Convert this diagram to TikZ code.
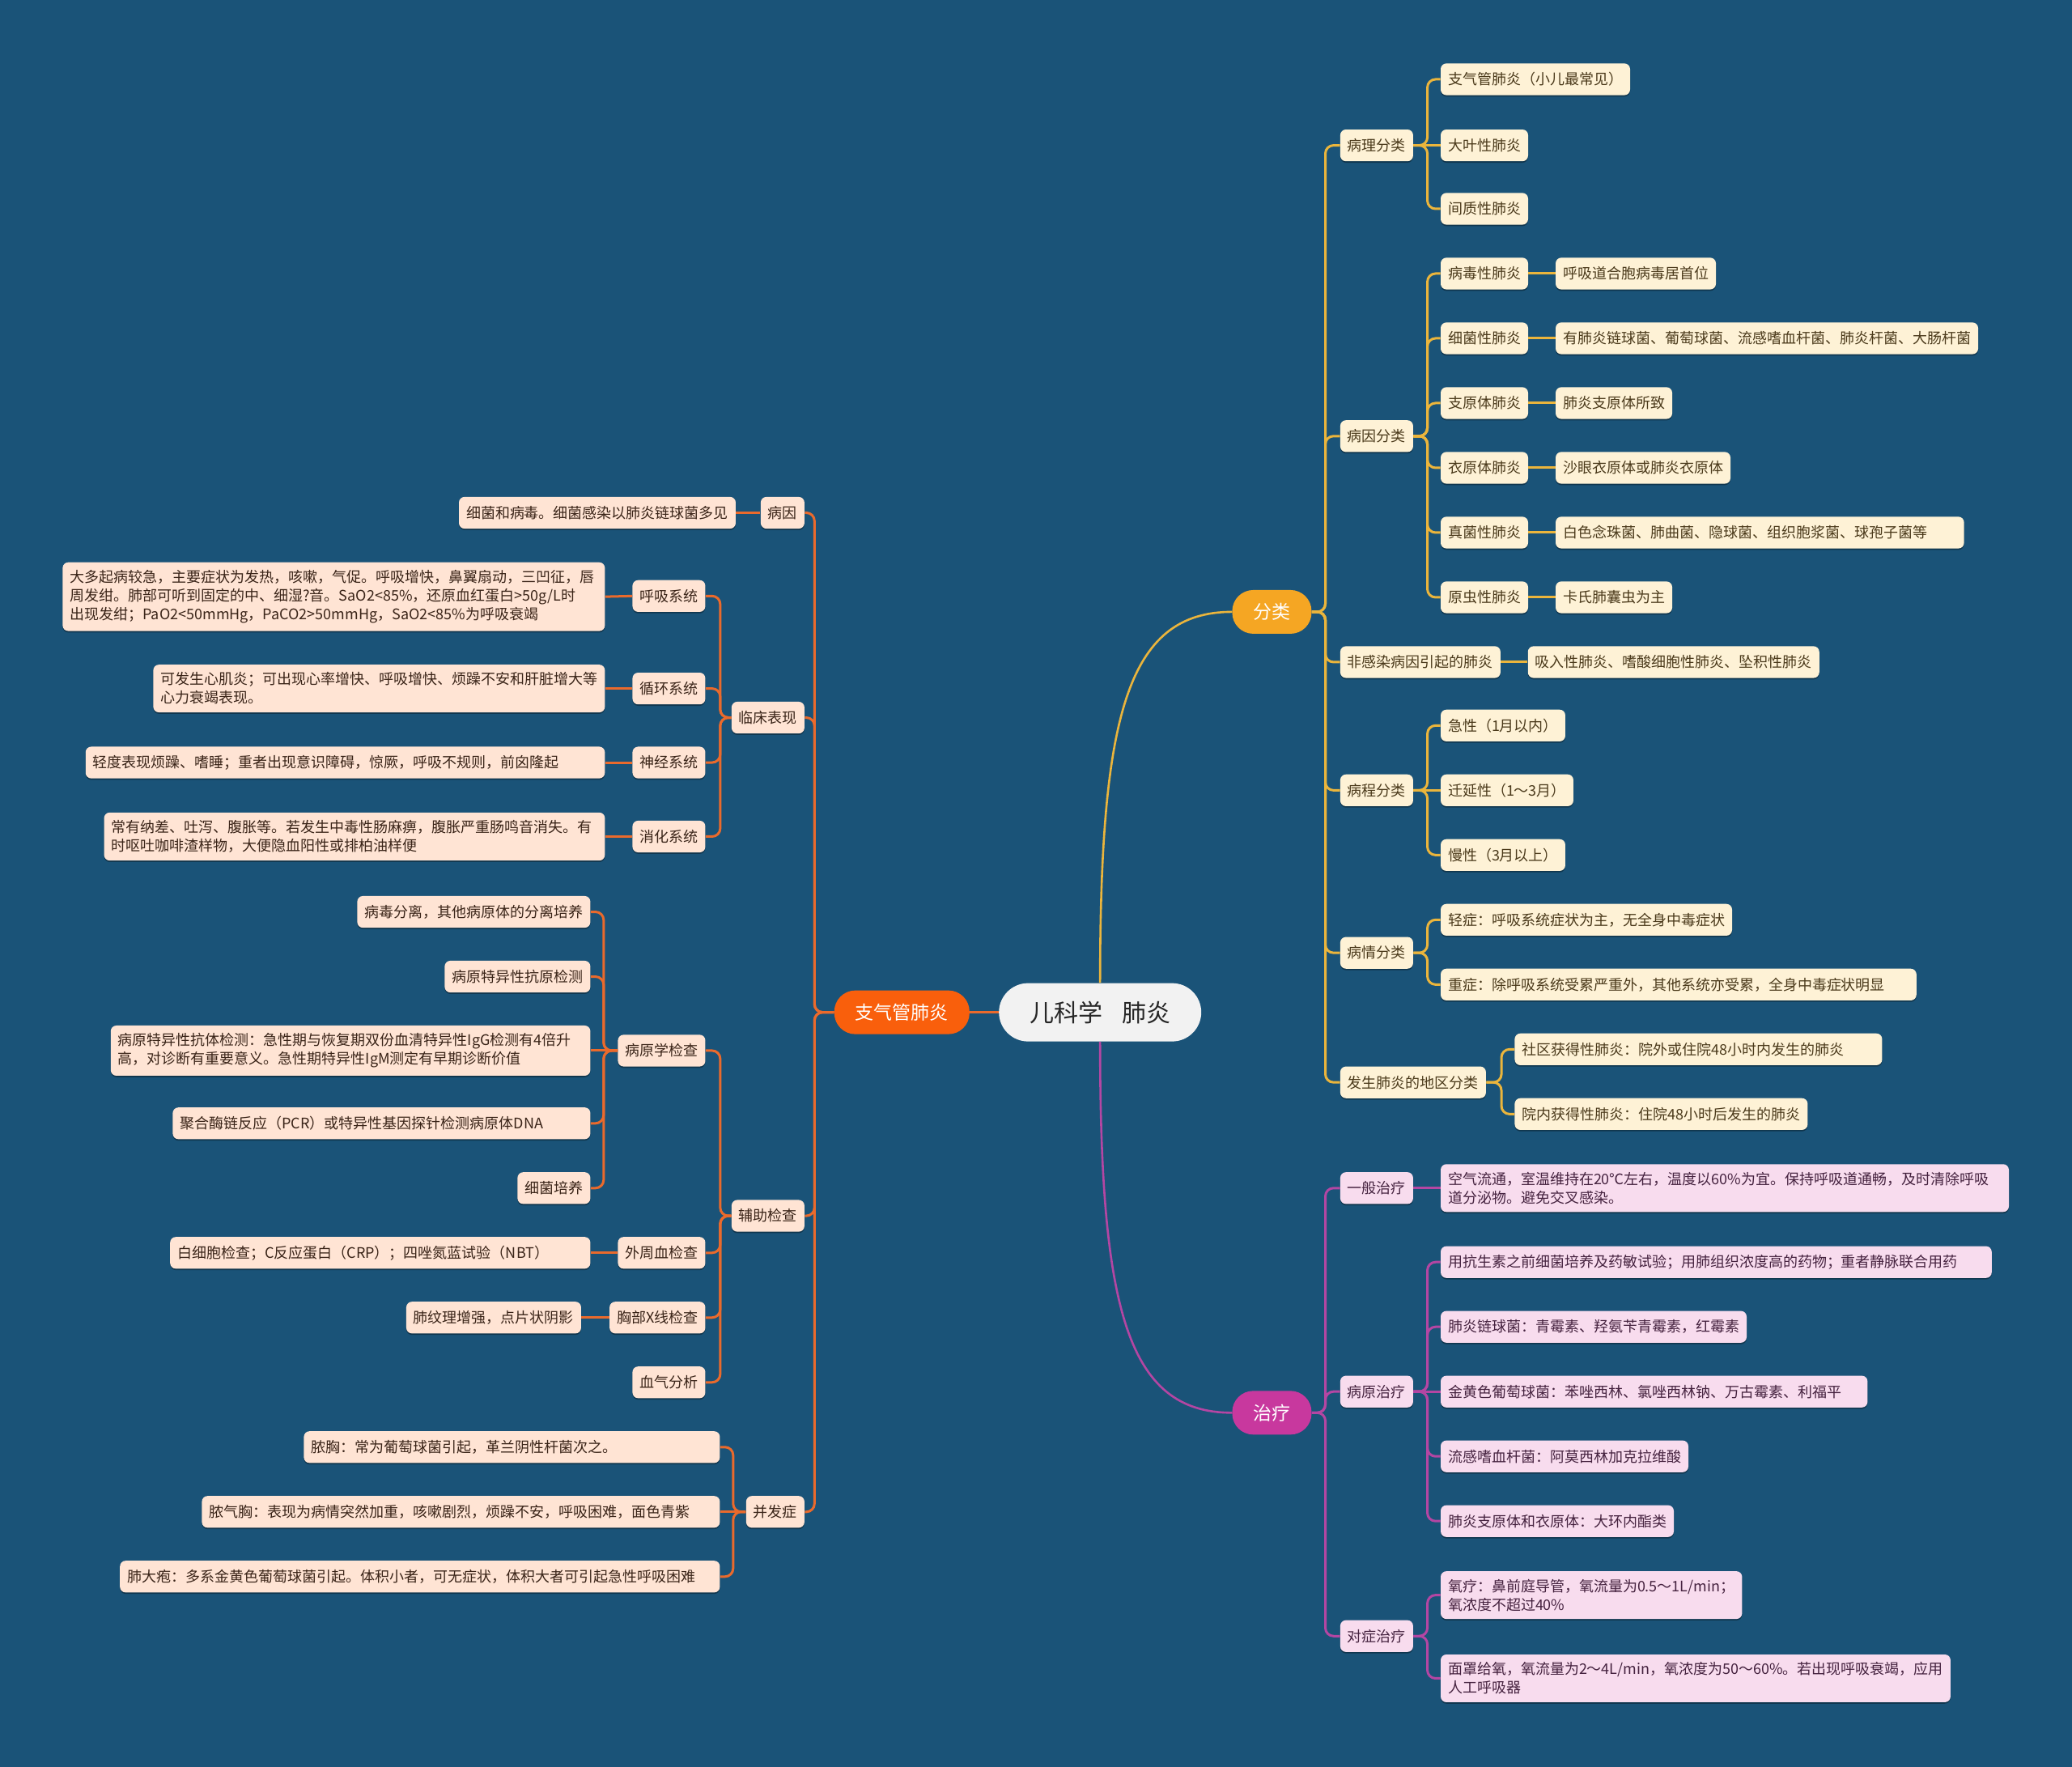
\documentclass[tikz,border=0pt]{standalone}
\usepackage{fontspec}
\setmainfont{Noto Sans CJK SC}
\usetikzlibrary{shadows}
\definecolor{bg}{HTML}{1A5378}
\definecolor{peach}{HTML}{FFE4D4}
\definecolor{cream}{HTML}{FEF2D6}
\definecolor{pinkc}{HTML}{F8DCEE}
\definecolor{oline}{HTML}{EA6A2C}
\definecolor{yline}{HTML}{EBB53C}
\definecolor{mline}{HTML}{B446A3}
\definecolor{bzc}{HTML}{F95F0C}
\definecolor{flc}{HTML}{F5A623}
\definecolor{zlc}{HTML}{C8389E}
\definecolor{rootc}{HTML}{F2F2F2}
\definecolor{ltext}{HTML}{3A2418}
\definecolor{rtext}{HTML}{4B3A1B}
\definecolor{ptext}{HTML}{45223F}
\begin{document}
\begin{tikzpicture}[x=0.81635pt,y=-0.81635pt,
 basebox/.style={rectangle, rounded corners=3.5pt, font=\fontsize{9}{11.5}\selectfont, inner xsep=4.5pt, inner ysep=4.8pt, minimum height=19.6pt, align=left, drop shadow={shadow xshift=0pt, shadow yshift=-0.9pt, fill=black, opacity=0.35}},
 lbox/.style={basebox, fill=peach, text=ltext, anchor=east},
 rbox/.style={basebox, fill=cream, text=rtext, anchor=west},
 pbox/.style={basebox, fill=pinkc, text=ptext, anchor=west},
 tw/.style={text width=#1},
 mainnode/.style={rectangle, rounded corners=13pt, minimum height=27pt, inner xsep=13pt, font=\fontsize{11.5}{14}\selectfont, text=white},
 oc/.style={draw=oline, line width=1.5pt, rounded corners=5pt},
 yc/.style={draw=yline, line width=1.5pt, rounded corners=5pt},
 mc/.style={draw=mline, line width=1.5pt, rounded corners=5pt}
]
\fill[bg] (0,0) rectangle (1568,1337);
\useasboundingbox (0,0) rectangle (1568,1337);

% ---------- main nodes ----------
\node[mainnode, fill=rootc, text=black!85, font=\fontsize{15}{18}\selectfont, rounded corners=18pt, minimum height=36pt, inner xsep=19pt] (root) at (832.5,766) {儿科学\hspace{0.8em}肺炎};
\node[mainnode, fill=bzc] (bz) at (682.5,766) {支气管肺炎};
\node[mainnode, fill=flc] (fl) at (962.5,463) {分类};
\node[mainnode, fill=zlc] (zl) at (962.5,1069) {治疗};

% ---------- left side ----------
\node[lbox] (by) at (609,388) {病因};
\node[lbox] (bya) at (557,388) {细菌和病毒。细菌感染以肺炎链球菌多见};
\node[lbox] (lc) at (609,543) {临床表现};
\node[lbox] (lc1) at (534,451) {呼吸系统};
\node[lbox, tw=326pt] (lc1a) at (458,451.5) {大多起病较急，主要症状为发热，咳嗽，气促。呼吸增快，鼻翼扇动，三凹征，唇\\周发绀。肺部可听到固定的中、细湿?音。SaO2<85\%，还原血红蛋白>50g/L时\\出现发绀；PaO2<50mmHg，PaCO2>50mmHg，SaO2<85\%为呼吸衰竭};
\node[lbox] (lc2) at (534,521) {循环系统};
\node[lbox] (lc2a) at (458,521) {可发生心肌炎；可出现心率增快、呼吸增快、烦躁不安和肝脏增大等\\心力衰竭表现。};
\node[lbox] (lc3) at (534,577) {神经系统};
\node[lbox, tw=311.8pt] (lc3a) at (458,577) {轻度表现烦躁、嗜睡；重者出现意识障碍，惊厥，呼吸不规则，前囟隆起};
\node[lbox] (lc4) at (534,633) {消化系统};
\node[lbox, tw=300.4pt] (lc4a) at (458,633) {常有纳差、吐泻、腹胀等。若发生中毒性肠麻痹，腹胀严重肠鸣音消失。有\\时呕吐咖啡渣样物，大便隐血阳性或排柏油样便};
\node[lbox] (fz) at (609,920) {辅助检查};
\node[lbox] (fz1) at (534,795) {病原学检查};
\node[lbox] (fz1a) at (447,690) {病毒分离，其他病原体的分离培养};
\node[lbox] (fz1b) at (447,739) {病原特异性抗原检测};
\node[lbox, tw=287.3pt] (fz1c) at (447,795) {病原特异性抗体检测：急性期与恢复期双份血清特异性IgG检测有4倍升\\高，对诊断有重要意义。急性期特异性IgM测定有早期诊断价值};
\node[lbox, tw=249pt] (fz1d) at (447,850) {聚合酶链反应（PCR）或特异性基因探针检测病原体DNA};
\node[lbox] (fz1e) at (447,899) {细菌培养};
\node[lbox] (fz2) at (534,948) {外周血检查};
\node[lbox, tw=250.6pt] (fz2a) at (447,948) {白细胞检查；C反应蛋白（CRP）；四唑氮蓝试验（NBT）};
\node[lbox] (fz3) at (534,997) {胸部X线检查};
\node[lbox] (fz3a) at (440,997) {肺纹理增强，点片状阴影};
\node[lbox] (fz4) at (534,1046) {血气分析};
\node[lbox] (bf) at (609,1144) {并发症};
\node[lbox, tw=248pt] (bf1) at (545,1095) {脓胸：常为葡萄球菌引起，革兰阴性杆菌次之。};
\node[lbox, tw=311pt] (bf2) at (545,1144) {脓气胸：表现为病情突然加重，咳嗽剧烈，烦躁不安，呼吸困难，面色青紫};
\node[lbox, tw=361.6pt] (bf3) at (545,1193) {肺大疱：多系金黄色葡萄球菌引起。体积小者，可无症状，体积大者可引起急性呼吸困难};

% ---------- right side: classification ----------
\node[rbox] (bl) at (1014,110) {病理分类};
\node[rbox] (bl1) at (1090,60) {支气管肺炎（小儿最常见）};
\node[rbox] (bl2) at (1090,110) {大叶性肺炎};
\node[rbox] (bl3) at (1090,158) {间质性肺炎};
\node[rbox] (yy) at (1014,330) {病因分类};
\node[rbox] (yy1) at (1090,207) {病毒性肺炎};
\node[rbox] (yy1a) at (1177,207) {呼吸道合胞病毒居首位};
\node[rbox] (yy2) at (1090,256) {细菌性肺炎};
\node[rbox] (yy2a) at (1177,256) {有肺炎链球菌、葡萄球菌、流感嗜血杆菌、肺炎杆菌、大肠杆菌};
\node[rbox] (yy3) at (1090,305) {支原体肺炎};
\node[rbox] (yy3a) at (1177,305) {肺炎支原体所致};
\node[rbox] (yy4) at (1090,354) {衣原体肺炎};
\node[rbox] (yy4a) at (1177,354) {沙眼衣原体或肺炎衣原体};
\node[rbox] (yy5) at (1090,403) {真菌性肺炎};
\node[rbox, tw=243.3pt] (yy5a) at (1177,403) {白色念珠菌、肺曲菌、隐球菌、组织胞浆菌、球孢子菌等};
\node[rbox] (yy6) at (1090,452) {原虫性肺炎};
\node[rbox] (yy6a) at (1177,452) {卡氏肺囊虫为主};
\node[rbox] (fg) at (1014,501) {非感染病因引起的肺炎};
\node[rbox] (fga) at (1156,501) {吸入性肺炎、嗜酸细胞性肺炎、坠积性肺炎};
\node[rbox] (bc) at (1014,598) {病程分类};
\node[rbox] (bc1) at (1090,549) {急性（1月以内）};
\node[rbox] (bc2) at (1090,598) {迁延性（1～3月）};
\node[rbox] (bc3) at (1090,647) {慢性（3月以上）};
\node[rbox] (bq) at (1014,721) {病情分类};
\node[rbox] (bq1) at (1090,696) {轻症：呼吸系统症状为主，无全身中毒症状};
\node[rbox, tw=284.9pt] (bq2) at (1090,745) {重症：除呼吸系统受累严重外，其他系统亦受累，全身中毒症状明显};
\node[rbox] (dq) at (1014,819) {发生肺炎的地区分类};
\node[rbox, tw=218pt] (dq1) at (1146,794) {社区获得性肺炎：院外或住院48小时内发生的肺炎};
\node[rbox] (dq2) at (1146,843) {院内获得性肺炎：住院48小时后发生的肺炎};

% ---------- right side: treatment ----------
\node[pbox] (yb) at (1014,899) {一般治疗};
\node[pbox, tw=342pt] (yba) at (1090,899) {空气流通，室温维持在20℃左右，温度以60\%为宜。保持呼吸道通畅，及时清除呼吸\\道分泌物。避免交叉感染。};
\node[pbox] (by2) at (1014,1053) {病原治疗};
\node[pbox, tw=331.4pt] (by2a) at (1090,955) {用抗生素之前细菌培养及药敏试验；用肺组织浓度高的药物；重者静脉联合用药};
\node[pbox] (by2b) at (1090,1004) {肺炎链球菌：青霉素、羟氨苄青霉素，红霉素};
\node[pbox, tw=254.7pt] (by2c) at (1090,1053) {金黄色葡萄球菌：苯唑西林、氯唑西林钠、万古霉素、利福平};
\node[pbox] (by2d) at (1090,1102) {流感嗜血杆菌：阿莫西林加克拉维酸};
\node[pbox] (by2e) at (1090,1151) {肺炎支原体和衣原体：大环内酯类};
\node[pbox] (dz) at (1014,1238) {对症治疗};
\node[pbox] (dz1) at (1090,1207) {氧疗：鼻前庭导管，氧流量为0.5～1L/min；\\氧浓度不超过40\%};
\node[pbox] (dz2) at (1090,1270) {面罩给氧，氧流量为2～4L/min，氧浓度为50～60\%。若出现呼吸衰竭，应用\\人工呼吸器};

% ---------- connectors: root ----------
\draw[oc] (root.west) -- (bz.east);
\draw[yline, line width=1.3pt] (root.north) .. controls +(0,-200) and +(-80,0) .. (fl.west);
\draw[mline, line width=1.3pt] (root.south) .. controls +(0,200) and +(-80,0) .. (zl.west);

% ---------- connectors: left ----------
\foreach \c in {by,lc,fz,bf} \draw[oc] (bz.west) -| ([xshift=6pt]\c.east) -- (\c.east);
\draw[oc] (by.west) -- (bya.east);
\foreach \c in {lc1,lc2,lc3,lc4} \draw[oc] (lc.west) -| ([xshift=9pt]\c.east) -- (\c.east);
\draw[oc] (lc1.west) -- (lc1a.east);
\draw[oc] (lc2.west) -- (lc2a.east);
\draw[oc] (lc3.west) -- (lc3a.east);
\draw[oc] (lc4.west) -- (lc4a.east);
\foreach \c in {fz1,fz2,fz3,fz4} \draw[oc] (fz.west) -| ([xshift=9pt]\c.east) -- (\c.east);
\foreach \c in {fz1a,fz1b,fz1d,fz1e} \draw[oc] (fz1.west) -| ([xshift=8pt]\c.east) -- (\c.east);
\draw[oc] (fz1.west) -- (fz1c.east);
\draw[oc] (fz2.west) -- (fz2a.east);
\draw[oc] (fz3.west) -- (fz3a.east);
\foreach \c in {bf1,bf3} \draw[oc] (bf.west) -| ([xshift=8pt]\c.east) -- (\c.east);
\draw[oc] (bf.west) -- (bf2.east);

% ---------- connectors: classification ----------
\foreach \c in {bl,yy,fg,bc,bq,dq} \draw[yc] (fl.east) -| ([xshift=-9pt]\c.west) -- (\c.west);
\foreach \c in {bl1,bl3} \draw[yc] (bl.east) -| ([xshift=-8pt]\c.west) -- (\c.west);
\draw[yc] (bl.east) -- (bl2.west);
\foreach \c in {yy1,yy2,yy3,yy4,yy5,yy6} \draw[yc] (yy.east) -| ([xshift=-8pt]\c.west) -- (\c.west);
\draw[yc] (yy1.east) -- (yy1a.west);
\draw[yc] (yy2.east) -- (yy2a.west);
\draw[yc] (yy3.east) -- (yy3a.west);
\draw[yc] (yy4.east) -- (yy4a.west);
\draw[yc] (yy5.east) -- (yy5a.west);
\draw[yc] (yy6.east) -- (yy6a.west);
\draw[yc] (fg.east) -- (fga.west);
\foreach \c in {bc1,bc3} \draw[yc] (bc.east) -| ([xshift=-8pt]\c.west) -- (\c.west);
\draw[yc] (bc.east) -- (bc2.west);
\foreach \c in {bq1,bq2} \draw[yc] (bq.east) -| ([xshift=-8pt]\c.west) -- (\c.west);
\foreach \c in {dq1,dq2} \draw[yc] (dq.east) -| ([xshift=-8pt]\c.west) -- (\c.west);

% ---------- connectors: treatment ----------
\foreach \c in {yb,by2,dz} \draw[mc] (zl.east) -| ([xshift=-9pt]\c.west) -- (\c.west);
\draw[mc] (yb.east) -- (yba.west);
\foreach \c in {by2a,by2b,by2d,by2e} \draw[mc] (by2.east) -| ([xshift=-8pt]\c.west) -- (\c.west);
\draw[mc] (by2.east) -- (by2c.west);
\foreach \c in {dz1,dz2} \draw[mc] (dz.east) -| ([xshift=-8pt]\c.west) -- (\c.west);
\end{tikzpicture}
\end{document}
